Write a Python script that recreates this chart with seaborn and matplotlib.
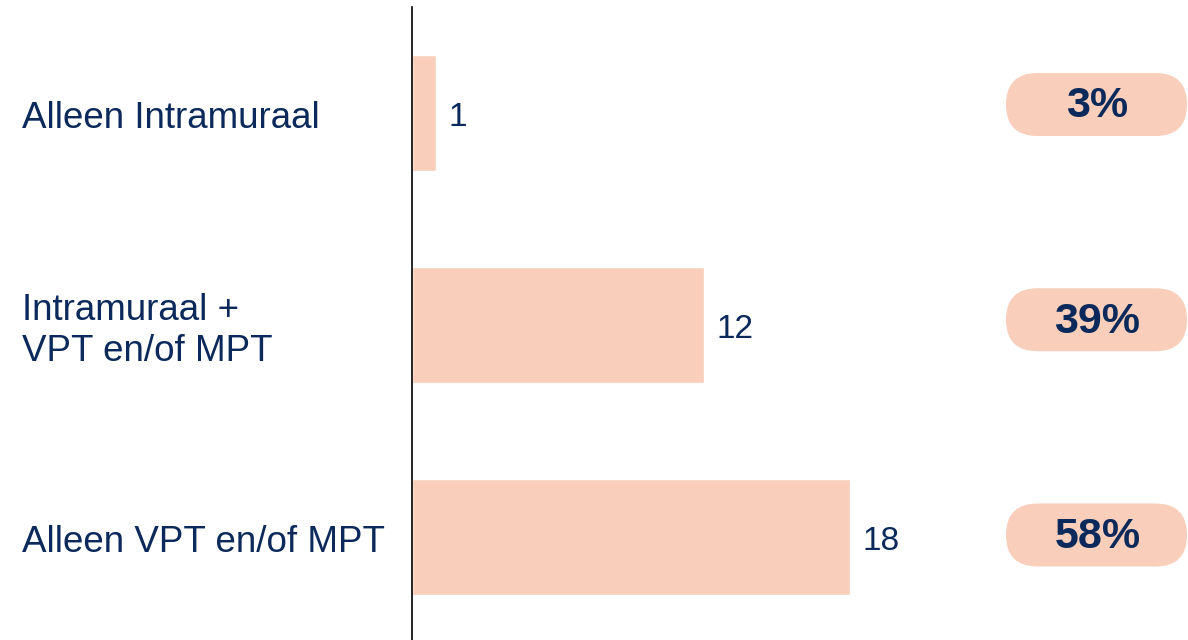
import matplotlib
matplotlib.use("Agg")
import matplotlib.pyplot as plt
import seaborn as sns
from matplotlib.patches import FancyBboxPatch
from matplotlib.transforms import blended_transform_factory

# data
categories = ["Alleen Intramuraal", "Intramuraal +\nVPT en/of MPT", "Alleen VPT en/of MPT"]
counts = [1, 12, 18]
percents = ["3%", "39%", "58%"]

bar_color = "#F9CEBA"
navy = "#0B2A5B"

sns.set_theme(style="white")
plt.rcParams["font.family"] = ["Liberation Sans", "DejaVu Sans"]

fig = plt.figure(figsize=(11.88, 6.4), dpi=100)
ax = fig.add_axes([412 / 1188, -3 / 640, (996 - 412) / 1188, 636 / 640])

sns.barplot(x=counts, y=list(range(len(categories))), orient="h", color=bar_color,
            saturation=1, width=0.55, ax=ax)
ax.set_xlim(0, 24)
ax.set_ylim(2.5, -0.5)

# value labels next to the bars
for i, c in enumerate(counts):
    ax.annotate(str(c), xy=(c, i), xytext=(9, -3), textcoords="offset points",
                ha="left", va="center", fontsize=24, color=navy)

# spines / ticks
for s in ["top", "right", "bottom"]:
    ax.spines[s].set_visible(False)
ax.spines["left"].set_color("black")
ax.spines["left"].set_linewidth(1.2)
ax.set_xticks([])
ax.set_yticks([])
ax.set_xlabel("")
ax.set_ylabel("")

# category labels on the left
trans = blended_transform_factory(fig.transFigure, ax.transData)
for i, cat in enumerate(categories):
    ax.text(22 / 1188, i + 0.028, cat, transform=trans, ha="left", va="center",
            fontsize=26.5, color=navy, linespacing=1.25, clip_on=False)

# percentage pills on the right
fig.canvas.draw()
to_inch = fig.dpi_scale_trans.inverted()
pill_h = 0.63
for i, p in enumerate(percents):
    _, yc = to_inch.transform(ax.transData.transform((0, i)))
    yc += (8.5 - 3.25 * i) / 100
    box = FancyBboxPatch((10.06 + pill_h / 2, yc), 1.81 - pill_h, 0,
                         boxstyle=f"round,pad={pill_h / 2},rounding_size={pill_h / 2}",
                         transform=fig.dpi_scale_trans, facecolor=bar_color,
                         edgecolor="none")
    fig.add_artist(box)
    fig.text(10.975, yc - 0.02, p, transform=fig.dpi_scale_trans, ha="center",
             va="center", fontsize=31, fontweight="bold", color=navy)

fig.savefig("out.png", dpi=100)
